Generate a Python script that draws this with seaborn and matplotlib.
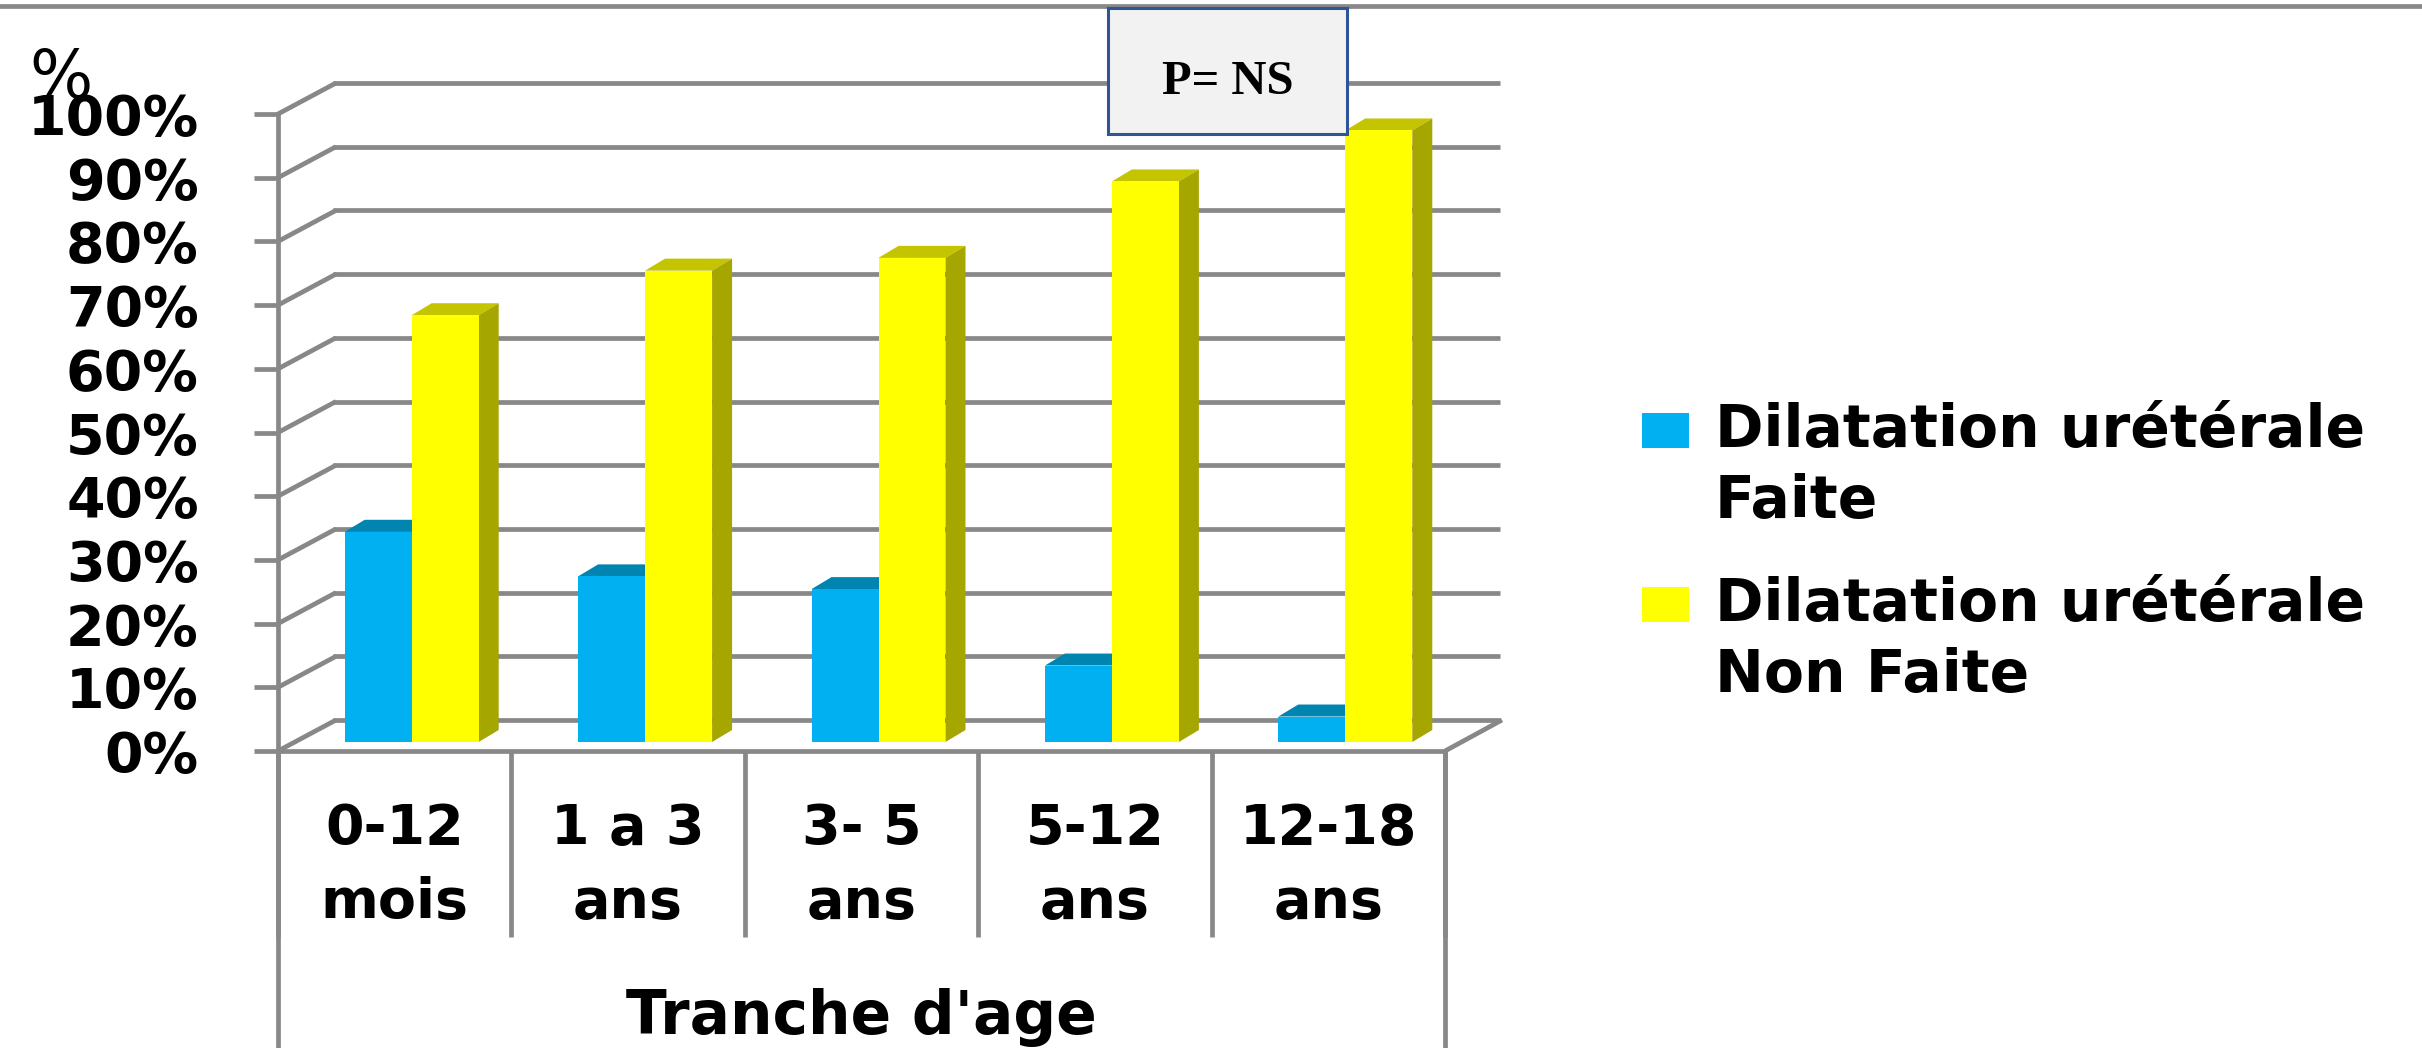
import matplotlib
matplotlib.use("Agg")
import matplotlib.pyplot as plt
import pandas as pd
import seaborn as sns
from matplotlib.lines import Line2D
from matplotlib.patches import Polygon, Rectangle

# Data
age_groups = ["0-12\nmois", "1 a 3\nans", "3- 5\nans", "5-12\nans", "12-18\nans"]
series_names = ["Dilatation urétérale\nFaite", "Dilatation urétérale\nNon Faite"]
faite = [33, 26, 24, 12, 4]
non_faite = [67, 74, 76, 88, 96]
y_ticks = [0, 10, 20, 30, 40, 50, 60, 70, 80, 90, 100]
y_tick_labels = [f"{v}%" for v in y_ticks]

BLUE, BLUE_TOP = "#00B0F0", "#0084B0"
YELLOW, YELLOW_TOP, YELLOW_SIDE = "#FFFF00", "#C4C400", "#A6A600"
GREY = "#888888"

W, H = 2422, 1048
LW = 3.4
sns.set_theme(style="white")
plt.rcParams["font.family"] = ["DejaVu Sans"]
plt.rcParams["font.weight"] = "bold"
FS = 40
LEGEND_FS = 42

fig = plt.figure(figsize=(W / 100, H / 100), dpi=100, facecolor="white")


def axes_px(left, right, top, bottom):
    """Axes placed by its pixel edges, measured from the top-left corner."""
    return fig.add_axes([left / W, 1 - bottom / H, (right - left) / W, (bottom - top) / H])


# Back wall of the 3-D box
back = axes_px(333, 1500, 83, 720)
back.set_xlim(-0.5, 4.5)
back.set_ylim(0, 100)
back.patch.set_visible(False)
for s in back.spines.values():
    s.set_visible(False)
back.set_xticks([])
back.set_yticks([])
for v in y_ticks:
    back.axhline(v, color=GREY, lw=LW, clip_on=False, solid_capstyle="butt")

# Front plane: value axis, category cells and axis titles
front = axes_px(278, 1445, 114, 751)
front.set_xlim(-0.5, 4.5)
front.set_ylim(0, 100)
front.patch.set_visible(False)
for name, s in front.spines.items():
    s.set_visible(name in ("left", "bottom"))
    s.set_color(GREY)
    s.set_linewidth(LW)
front.set_yticks(y_ticks, y_tick_labels, fontsize=FS, color="black")
front.tick_params(axis="y", length=17, width=LW, color=GREY, pad=40, left=True)
front.set_xticks(range(len(age_groups)), age_groups, fontsize=FS, color="black", linespacing=1.46)
front.set_xticks([i - 0.5 for i in range(len(age_groups) + 1)], minor=True)
front.tick_params(axis="x", which="major", length=0, pad=37, bottom=False)
front.tick_params(axis="x", which="minor", length=134, width=LW, color=GREY, bottom=True)
front.set_xlabel("Tranche d'age", fontsize=FS + 3, fontweight="bold", color="black")
front.xaxis.set_label_coords(0.5, -0.372)

# Depth lines joining the front plane to the back wall
px_x = 5 / (1445 - 278)
px_y = 100 / (751 - 114)
for v in y_ticks:
    front.plot([-0.5, -0.5 + 58 * px_x], [v, v + 31 * px_y], color=GREY, lw=LW,
               clip_on=False, solid_capstyle="butt")
front.plot([4.5, 4.5 + 57 * px_x], [0, 31 * px_y], color=GREY, lw=LW, clip_on=False,
           solid_capstyle="butt")
for x in (-0.5, 4.5):
    front.plot([x, x], [0, -(H - 751) * px_y], color=GREY, lw=LW, clip_on=False,
               solid_capstyle="butt")

# Bars, on a plane set slightly behind the front axis
ax = axes_px(295, 1462, 105, 742)
df = pd.DataFrame({
    "age": age_groups * 2,
    "serie": [series_names[0]] * 5 + [series_names[1]] * 5,
    "pct": faite + non_faite,
})
sns.barplot(data=df, x="age", y="pct", hue="serie", hue_order=series_names,
            palette=[BLUE, YELLOW], saturation=1, width=0.574, gap=0, ax=ax,
            edgecolor="none", linewidth=0)
ax.set_xlim(-0.5, 4.5)
ax.set_ylim(0, 100)

# Extrude every bar to give it a top face and a side face
depth_x = 20 * px_x
depth_y = 12 * px_y
for container, top_col, side_col, z in zip(ax.containers, (BLUE_TOP, YELLOW_TOP),
                                           (BLUE_TOP, YELLOW_SIDE), (1, 3)):
    for bar in container:
        x0, w, h = bar.get_x(), bar.get_width(), bar.get_height()
        x1 = x0 + w
        ax.add_patch(Polygon([(x0, h), (x1, h), (x1 + depth_x, h + depth_y), (x0 + depth_x, h + depth_y)],
                             closed=True, fc=top_col, ec="none", clip_on=False, zorder=z))
        ax.add_patch(Polygon([(x1, 0), (x1, h), (x1 + depth_x, h + depth_y), (x1 + depth_x, depth_y)],
                             closed=True, fc=side_col, ec="none", clip_on=False, zorder=z))
        bar.set_zorder(z + 1)

sns.move_legend(ax, "upper left", bbox_to_anchor=(1642 / W, 1 - 402 / H),
                bbox_transform=fig.transFigure, title=None, frameon=False,
                fontsize=LEGEND_FS, handlelength=0.8, handleheight=0.55, handletextpad=0.45,
                labelspacing=0.8, borderpad=0, borderaxespad=0)
legend = ax.get_legend()
for txt in legend.get_texts():
    txt.set_color("black")
    txt.set_linespacing(1.3)
# Raise each swatch level with the first line of its label
for handle in legend.legend_handles:
    handle.set_y(handle.get_y() + 27)
ax.set_axis_off()

# Rule along the top of the figure
fig.add_artist(Line2D([0, 1], [1 - 6 / H, 1 - 6 / H], transform=fig.transFigure, color=GREY,
                      lw=LW, zorder=4))

# Unit label above the value axis
fig.text(61 / W, 1 - 79 / H, "%", fontsize=48, fontweight="normal", color="black",
         ha="center", va="center", zorder=6)

# Significance box
fig.add_artist(Rectangle((1108 / W, 1 - 134 / H), 239 / W, 126 / H, transform=fig.transFigure,
                         fc="#F2F2F2", ec="#2F5597", lw=2.2, zorder=5))
fig.text(1228 / W, 1 - 82 / H, "P= NS", fontsize=35, fontweight="bold", family="Liberation Serif",
         color="black", ha="center", va="center", zorder=6)

fig.savefig("out.png", dpi=100, facecolor="white")
